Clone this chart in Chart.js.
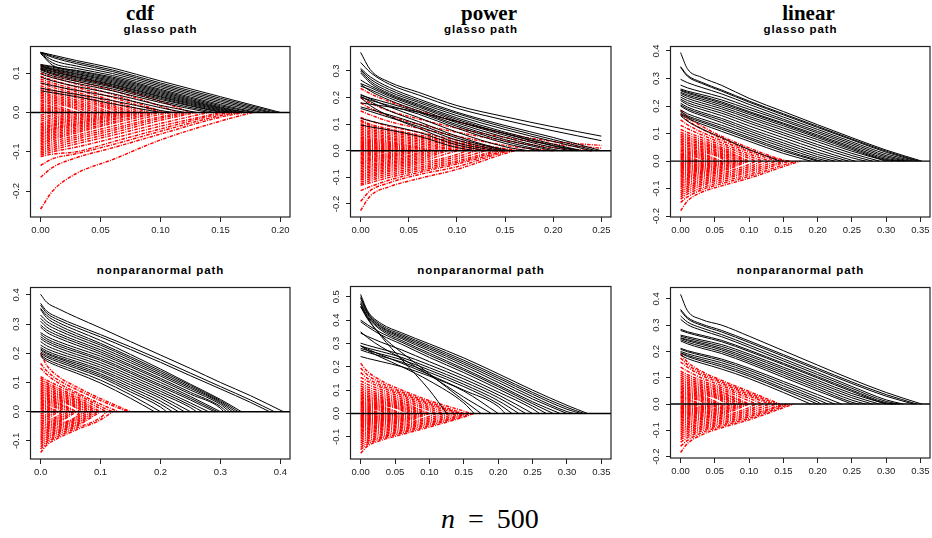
<!DOCTYPE html>
<html><head><meta charset="utf-8">
<script src="https://cdn.jsdelivr.net/npm/chart.js@4/dist/chart.umd.min.js"></script>
<style>
body{margin:0;background:#fff;width:932px;height:538px;position:relative;overflow:hidden}
canvas{position:absolute}
.tt{position:absolute;transform:translateX(-50%);white-space:nowrap;color:#000}
.big{font:bold 21px/21px "Liberation Serif",serif;top:3px}
.sub{font:bold 11.5px/11.5px "Liberation Sans",Arial,sans-serif;letter-spacing:0.9px}
.nlab{position:absolute;left:441px;top:505px;font:28px/28px "Liberation Serif",serif;white-space:nowrap}
</style>
</head><body>
<div class="tt big" style="left:140px">cdf</div>
<div class="tt big" style="left:489px">power</div>
<div class="tt big" style="left:808.5px">linear</div>
<div class="tt sub" style="left:160.5px;top:23.6px">glasso path</div>
<div class="tt sub" style="left:481px;top:23.6px">glasso path</div>
<div class="tt sub" style="left:800.5px;top:23.6px">glasso path</div>
<div class="tt sub" style="left:160.5px;top:265.3px">nonparanormal path</div>
<div class="tt sub" style="left:481px;top:265.3px">nonparanormal path</div>
<div class="tt sub" style="left:800.5px;top:265.3px">nonparanormal path</div>
<div class="nlab"><i>n</i><span style="margin-left:13px">=</span><span style="margin-left:13px">500</span></div>
<canvas id="c1"></canvas><canvas id="c2"></canvas><canvas id="c3"></canvas>
<canvas id="c4"></canvas><canvas id="c5"></canvas><canvas id="c6"></canvas>
<script>
// ---------- DATA ----------
// path format: [lambda where path reaches 0 (9 = beyond axis), value at grid[0], value at grid[1], ...]
const cdfGlassoGrid = [0, 0.01, 0.03, 0.06, 0.1, 0.15];
const cdfGlassoXTicks = [0, 0.05, 0.10, 0.15, 0.20];
const cdfGlassoYTicks = [-0.2, -0.1, 0.0, 0.1];
const cdfGlassoXRange = [-0.008, 0.208];
const cdfGlassoYRange = [-0.266, 0.169];
const cdfGlassoBlack = [
 [0.200,0.153,0.146,0.132,0.113,0.080,0.040],[0.197,0.153,0.143,0.128,0.108,0.075,0.036],
 [0.193,0.152,0.140,0.124,0.104,0.071,0.032],[0.190,0.152,0.133,0.118,0.099,0.067,0.028],
 [0.185,0.151,0.126,0.112,0.094,0.063,0.024],[0.180,0.150,0.120,0.107,0.090,0.059,0.020],
 [0.177,0.122,0.117,0.105,0.087,0.056,0.017],[0.172,0.120,0.115,0.102,0.084,0.053,0.014],
 [0.170,0.118,0.112,0.099,0.081,0.050,0.012],[0.166,0.117,0.110,0.097,0.078,0.047,0.010],
 [0.163,0.115,0.108,0.094,0.075,0.044,0.008],[0.160,0.113,0.105,0.091,0.072,0.041,0.006],
 [0.158,0.112,0.103,0.089,0.070,0.039,0.004],[0.155,0.110,0.100,0.086,0.067,0.036,0.002],
 [0.150,0.108,0.097,0.083,0.064,0.033],[0.145,0.104,0.093,0.079,0.060,0.029],
 [0.140,0.098,0.088,0.074,0.055,0.025],[0.130,0.090,0.080,0.066,0.048,0.018],
 [0.120,0.075,0.068,0.056,0.040,0.012],[0.110,0.062,0.056,0.046,0.030,0.005],
 [0.100,0.055,0.050,0.040,0.022]
];
const cdfGlassoRed = [
 [0.125,0.122,0.108,0.090,0.066,0.028],[0.115,0.110,0.098,0.080,0.056,0.016],[0.105,0.100,0.090,0.072,0.046,0.004],
 [0.10,0.092,0.082,0.064,0.038],[0.09,0.085,0.075,0.058,0.030],[0.085,0.080,0.070,0.052,0.024],
 [0.08,0.074,0.064,0.047,0.018],[0.075,0.068,0.058,0.042,0.014],[0.07,0.062,0.053,0.037,0.010],
 [0.065,0.058,0.049,0.032,0.006],[0.06,0.052,0.044,0.028],[0.055,0.048,0.040,0.024],
 [0.05,0.044,0.036,0.020],[0.045,0.040,0.032,0.016],[0.04,0.036,0.028,0.012],[0.035,0.031,0.024,0.008],
 [0.03,0.027,0.020],[0.027,0.022,0.015],[0.024,0.018,0.012],[0.02,0.014,0.008],[0.016,0.010,0.005],
 [0.012,0.007,0.002],[0.008,0.004],
 [0.177,-0.246,-0.200,-0.155,-0.120,-0.070,-0.022],[0.17,-0.165,-0.140,-0.115,-0.090,-0.055,-0.012],
 [0.165,-0.135,-0.118,-0.105,-0.082,-0.048,-0.008],[0.16,-0.112,-0.106,-0.100,-0.075,-0.042,-0.004],
 [0.15,-0.108,-0.100,-0.088,-0.066,-0.035],[0.14,-0.104,-0.095,-0.080,-0.058,-0.028],
 [0.13,-0.100,-0.090,-0.074,-0.052,-0.020],[0.125,-0.096,-0.085,-0.068,-0.046,-0.015],
 [0.12,-0.092,-0.080,-0.063,-0.041,-0.011],[0.11,-0.088,-0.075,-0.058,-0.035,-0.005],
 [0.10,-0.084,-0.070,-0.052,-0.028],[0.095,-0.080,-0.066,-0.048,-0.024],[0.09,-0.076,-0.062,-0.044,-0.019],
 [0.085,-0.072,-0.058,-0.040,-0.016],[0.08,-0.068,-0.054,-0.036,-0.012],[0.075,-0.064,-0.050,-0.032,-0.009],
 [0.07,-0.060,-0.046,-0.029,-0.006],[0.065,-0.056,-0.043,-0.026,-0.003],[0.06,-0.052,-0.040,-0.022],
 [0.055,-0.048,-0.036,-0.018],[0.05,-0.044,-0.033,-0.015],[0.045,-0.040,-0.030,-0.011],
 [0.04,-0.036,-0.026,-0.008],[0.035,-0.032,-0.022,-0.004],[0.03,-0.028,-0.018],[0.025,-0.022,-0.014],
 [0.02,-0.017,-0.009],[0.015,-0.012,-0.005],[0.01,-0.007]
];

const powerGlassoGrid = [0, 0.01, 0.03, 0.06, 0.1, 0.15, 0.2, 0.25];
const powerGlassoXTicks = [0, 0.05, 0.10, 0.15, 0.20, 0.25];
const powerGlassoYTicks = [-0.2, -0.1, 0.0, 0.1, 0.2, 0.3];
const powerGlassoXRange = [-0.01, 0.26];
const powerGlassoYRange = [-0.249, 0.394];
const powerGlassoBlack = [
 [9,0.370,0.305,0.258,0.220,0.170,0.128,0.090,0.055],[9,0.332,0.295,0.250,0.210,0.160,0.115,0.075,0.038],
 [0.25,0.310,0.278,0.238,0.195,0.145,0.095,0.050],[0.245,0.305,0.270,0.230,0.188,0.140,0.088,0.042],
 [0.24,0.300,0.262,0.222,0.182,0.132,0.080,0.035],[0.23,0.293,0.255,0.215,0.175,0.124,0.070,0.025],
 [0.225,0.266,0.245,0.210,0.170,0.118,0.064,0.018],[0.22,0.253,0.238,0.205,0.165,0.112,0.058,0.012],
 [0.21,0.243,0.230,0.198,0.158,0.105,0.050,0.005],[0.20,0.250,0.225,0.190,0.150,0.098,0.042],
 [0.19,0.209,0.198,0.178,0.145,0.092,0.035],[0.185,0.203,0.190,0.170,0.138,0.085,0.028],
 [0.175,0.212,0.195,0.165,0.125,0.070,0.015],[0.16,0.205,0.185,0.150,0.110,0.055,0.004],
 [0.15,0.165,0.155,0.135,0.100,0.048],[0.145,0.159,0.148,0.125,0.092,0.040],
 [0.14,0.200,0.170,0.130,0.085,0.030],[0.13,0.122,0.112,0.095,0.070,0.022],
 [0.12,0.097,0.090,0.078,0.055,0.012],[0.23,0.180,0.175,0.165,0.145,0.110,0.065,0.020]
];
const powerGlassoRed = [
 [9,0.235,0.215,0.185,0.150,0.110,0.065,0.035,0.020],[9,0.200,0.180,0.150,0.120,0.085,0.050,0.025,0.010],
 [0.24,0.180,0.160,0.130,0.100,0.070,0.038,0.012],[0.2,0.150,0.135,0.110,0.085,0.055,0.020],
 [0.17,0.125,0.112,0.092,0.070,0.040,0.008],[0.155,0.115,0.100,0.082,0.060,0.032,0.002],
 [0.15,0.110,0.095,0.076,0.055,0.028],[0.14,0.102,0.088,0.070,0.050,0.022],[0.13,0.095,0.082,0.064,0.044,0.016],
 [0.12,0.088,0.076,0.058,0.038,0.010],[0.11,0.082,0.070,0.052,0.032,0.004],[0.10,0.076,0.064,0.047,0.026],
 [0.09,0.070,0.058,0.042,0.020],[0.08,0.064,0.052,0.036,0.014],[0.075,0.058,0.047,0.032,0.010],
 [0.07,0.052,0.042,0.028,0.006],[0.06,0.047,0.038,0.024],[0.055,0.042,0.034,0.020],[0.05,0.038,0.030,0.016],
 [0.045,0.034,0.026,0.012],[0.04,0.030,0.022,0.008],[0.035,0.026,0.018,0.004],[0.03,0.022,0.015],
 [0.025,0.018,0.011],[0.02,0.014,0.007],[0.015,0.010,0.004],[0.01,0.006],
 [0.16,-0.225,-0.170,-0.135,-0.105,-0.070,-0.010],[0.155,-0.190,-0.150,-0.120,-0.090,-0.060,-0.004],
 [0.15,-0.150,-0.135,-0.110,-0.082,-0.050],[0.145,-0.130,-0.120,-0.100,-0.075,-0.044],
 [0.14,-0.125,-0.112,-0.092,-0.068,-0.038],[0.13,-0.118,-0.105,-0.085,-0.062,-0.030],
 [0.12,-0.110,-0.098,-0.078,-0.055,-0.022],[0.11,-0.104,-0.092,-0.072,-0.048,-0.014],
 [0.10,-0.098,-0.086,-0.066,-0.042],[0.09,-0.092,-0.080,-0.060,-0.036],[0.085,-0.086,-0.074,-0.055,-0.030],
 [0.08,-0.080,-0.068,-0.050,-0.024],[0.075,-0.074,-0.062,-0.045,-0.018],[0.07,-0.068,-0.057,-0.040,-0.012],
 [0.065,-0.062,-0.052,-0.035,-0.007],[0.06,-0.056,-0.046,-0.030],[0.055,-0.050,-0.041,-0.025],
 [0.05,-0.045,-0.036,-0.021],[0.045,-0.040,-0.032,-0.017],[0.04,-0.035,-0.027,-0.012],
 [0.035,-0.030,-0.023,-0.007],[0.03,-0.025,-0.018],[0.025,-0.020,-0.014],[0.02,-0.015,-0.009],
 [0.015,-0.010,-0.005],[0.01,-0.006]
];

const linearGlassoGrid = [0, 0.01, 0.03, 0.06, 0.1, 0.15, 0.2, 0.25, 0.3];
const linearGlassoXTicks = [0, 0.05, 0.10, 0.15, 0.20, 0.25, 0.30, 0.35];
const linearGlassoYTicks = [-0.2, -0.1, 0.0, 0.1, 0.2, 0.3, 0.4];
const linearGlassoXRange = [-0.014, 0.364];
const linearGlassoYRange = [-0.203, 0.418];
const linearGlassoBlack = [
 [0.352,0.394,0.335,0.305,0.275,0.228,0.180,0.132,0.085,0.040],[0.348,0.343,0.312,0.287,0.258,0.218,0.172,0.126,0.080,0.036],
 [0.345,0.340,0.308,0.283,0.254,0.214,0.168,0.122,0.077,0.032],[0.34,0.297,0.285,0.268,0.244,0.206,0.160,0.115,0.070,0.026],
 [0.335,0.276,0.266,0.252,0.232,0.196,0.152,0.108,0.064,0.020],[0.33,0.262,0.254,0.242,0.222,0.188,0.146,0.102,0.058,0.015],
 [0.325,0.258,0.250,0.236,0.215,0.180,0.138,0.095,0.052,0.010],[0.32,0.256,0.246,0.232,0.210,0.176,0.134,0.090,0.047,0.006],
 [0.31,0.250,0.240,0.226,0.204,0.170,0.128,0.085,0.042,0.003],[0.30,0.246,0.235,0.220,0.197,0.162,0.120,0.078,0.036],
 [0.29,0.240,0.228,0.212,0.190,0.155,0.112,0.070,0.028],[0.28,0.232,0.220,0.204,0.182,0.146,0.103,0.060,0.020],
 [0.27,0.225,0.212,0.196,0.174,0.138,0.095,0.052,0.012],[0.255,0.220,0.205,0.188,0.165,0.128,0.085,0.042,0.003],
 [0.245,0.210,0.196,0.178,0.155,0.118,0.075,0.032],[0.235,0.204,0.190,0.172,0.148,0.110,0.066,0.024],
 [0.225,0.200,0.185,0.166,0.140,0.102,0.058,0.016],[0.215,0.186,0.172,0.154,0.130,0.094,0.050,0.009],
 [0.205,0.180,0.165,0.147,0.122,0.086,0.042,0.003],[0.2,0.174,0.160,0.142,0.116,0.080,0.036],
 [0.19,0.170,0.155,0.135,0.108,0.072,0.028],[0.145,0.165,0.145,0.118,0.085,0.042]
];
const linearGlassoRed = [
 [0.16,0.185,0.160,0.128,0.090,0.048,0.004],[0.15,0.170,0.148,0.118,0.082,0.040],[0.14,0.150,0.132,0.106,0.074,0.034],
 [0.13,0.130,0.118,0.096,0.066,0.026],[0.12,0.115,0.104,0.086,0.058,0.018],[0.11,0.105,0.095,0.078,0.050,0.010],
 [0.10,0.098,0.088,0.071,0.044],[0.095,0.092,0.082,0.065,0.040],[0.09,0.086,0.076,0.060,0.034],
 [0.085,0.080,0.070,0.054,0.029],[0.08,0.074,0.065,0.049,0.024],[0.075,0.068,0.059,0.044,0.019],
 [0.07,0.062,0.054,0.039,0.014],[0.065,0.056,0.048,0.034,0.010],[0.06,0.050,0.043,0.029],
 [0.055,0.045,0.038,0.025],[0.05,0.040,0.033,0.021],[0.045,0.035,0.029,0.017],[0.04,0.030,0.024,0.012],
 [0.035,0.026,0.020,0.008],[0.03,0.022,0.016],[0.025,0.018,0.012],[0.02,0.014,0.008],[0.015,0.010,0.004],[0.01,0.006],
 [0.175,-0.180,-0.145,-0.114,-0.090,-0.062,-0.020],[0.17,-0.150,-0.130,-0.105,-0.082,-0.055,-0.014],
 [0.16,-0.138,-0.120,-0.098,-0.075,-0.048,-0.006],[0.15,-0.130,-0.112,-0.090,-0.068,-0.040],
 [0.14,-0.122,-0.105,-0.084,-0.062,-0.034],[0.13,-0.115,-0.098,-0.078,-0.056,-0.027],
 [0.12,-0.108,-0.092,-0.072,-0.050,-0.020],[0.11,-0.100,-0.086,-0.066,-0.044,-0.012],
 [0.10,-0.094,-0.080,-0.060,-0.038],[0.095,-0.088,-0.074,-0.055,-0.033],[0.09,-0.082,-0.068,-0.050,-0.028],
 [0.085,-0.076,-0.063,-0.045,-0.023],[0.08,-0.070,-0.058,-0.041,-0.018],[0.075,-0.064,-0.053,-0.037,-0.013],
 [0.07,-0.058,-0.048,-0.033,-0.009],[0.065,-0.053,-0.044,-0.029,-0.005],[0.06,-0.048,-0.040,-0.025],
 [0.055,-0.043,-0.035,-0.021],[0.05,-0.038,-0.031,-0.017],[0.045,-0.034,-0.027,-0.013],
 [0.04,-0.030,-0.023,-0.009],[0.035,-0.026,-0.019,-0.005],[0.03,-0.022,-0.015],[0.025,-0.018,-0.011],
 [0.02,-0.014,-0.008],[0.015,-0.010,-0.004],[0.01,-0.006]
];

const cdfNpnGrid = [0, 0.01, 0.03, 0.06, 0.1, 0.15, 0.2, 0.25, 0.3, 0.35];
const cdfNpnXTicks = [0, 0.1, 0.2, 0.3, 0.4];
const cdfNpnYTicks = [-0.1, 0.0, 0.1, 0.2, 0.3, 0.4];
const cdfNpnXRange = [-0.016, 0.416];
const cdfNpnYRange = [-0.162, 0.427];
const cdfNpnBlack = [
 [0.405,0.402,0.375,0.352,0.323,0.287,0.240,0.194,0.148,0.100,0.055],[0.39,0.371,0.345,0.322,0.296,0.264,0.222,0.178,0.132,0.086,0.040],
 [0.382,0.365,0.338,0.314,0.288,0.256,0.213,0.169,0.123,0.078,0.032],[0.335,0.354,0.330,0.305,0.278,0.244,0.196,0.146,0.094,0.042],
 [0.33,0.350,0.322,0.296,0.268,0.234,0.188,0.140,0.090,0.038],[0.325,0.331,0.310,0.287,0.260,0.228,0.182,0.134,0.085,0.034],
 [0.32,0.320,0.300,0.278,0.252,0.220,0.175,0.128,0.080,0.030],[0.315,0.310,0.290,0.268,0.243,0.212,0.168,0.122,0.074,0.025],
 [0.31,0.297,0.280,0.260,0.236,0.205,0.160,0.114,0.066,0.018],[0.305,0.290,0.272,0.252,0.228,0.198,0.154,0.108,0.060,0.012],
 [0.30,0.271,0.258,0.240,0.218,0.190,0.146,0.100,0.052],[0.295,0.265,0.250,0.232,0.210,0.182,0.138,0.092,0.046],
 [0.29,0.257,0.243,0.225,0.204,0.176,0.132,0.086,0.040],[0.28,0.250,0.236,0.218,0.196,0.168,0.124,0.078,0.030],
 [0.27,0.240,0.226,0.209,0.188,0.160,0.116,0.070,0.022],[0.26,0.228,0.216,0.200,0.180,0.152,0.108,0.062,0.014],
 [0.25,0.220,0.208,0.192,0.172,0.144,0.100,0.054],[0.24,0.215,0.202,0.186,0.166,0.138,0.092,0.046],
 [0.23,0.211,0.198,0.182,0.160,0.130,0.084,0.036],[0.22,0.205,0.192,0.176,0.154,0.124,0.076,0.026],
 [0.21,0.200,0.187,0.170,0.148,0.118,0.068,0.016],[0.2,0.194,0.180,0.162,0.140,0.108,0.058],
 [0.19,0.190,0.174,0.155,0.132,0.098,0.046]
];
const cdfNpnRed = [
 [0.15,0.200,0.160,0.120,0.085,0.045],[0.145,0.165,0.140,0.108,0.076,0.038],[0.13,0.150,0.128,0.098,0.066,0.026],
 [0.12,0.120,0.108,0.088,0.060,0.018],[0.11,0.115,0.100,0.080,0.052,0.010],[0.10,0.108,0.094,0.074,0.046],
 [0.095,0.100,0.088,0.068,0.041],[0.09,0.094,0.082,0.062,0.036],[0.085,0.088,0.076,0.057,0.031],
 [0.08,0.082,0.070,0.052,0.026],[0.075,0.076,0.064,0.047,0.021],[0.07,0.070,0.059,0.042,0.016],
 [0.065,0.064,0.054,0.037,0.011],[0.06,0.058,0.048,0.032],[0.055,0.052,0.043,0.028],[0.05,0.047,0.038,0.024],
 [0.045,0.042,0.034,0.019],[0.04,0.037,0.029,0.014],[0.035,0.032,0.025,0.009],[0.03,0.027,0.020],
 [0.025,0.022,0.016],[0.02,0.017,0.011],[0.015,0.012,0.006],[0.01,0.007],
 [0.12,-0.140,-0.115,-0.090,-0.062,-0.028],[0.11,-0.128,-0.108,-0.084,-0.056,-0.020],[0.10,-0.120,-0.102,-0.078,-0.050],
 [0.095,-0.112,-0.096,-0.072,-0.045],[0.09,-0.105,-0.090,-0.067,-0.040],[0.085,-0.098,-0.084,-0.062,-0.035],
 [0.08,-0.092,-0.078,-0.057,-0.030],[0.075,-0.086,-0.072,-0.052,-0.025],[0.07,-0.080,-0.067,-0.047,-0.020],
 [0.065,-0.074,-0.062,-0.042,-0.015],[0.06,-0.068,-0.056,-0.037],[0.055,-0.062,-0.051,-0.033],
 [0.05,-0.056,-0.046,-0.028],[0.045,-0.050,-0.041,-0.023],[0.04,-0.044,-0.036,-0.018],[0.035,-0.038,-0.030,-0.012],
 [0.03,-0.032,-0.025],[0.025,-0.026,-0.019],[0.02,-0.020,-0.014],[0.015,-0.014,-0.008],[0.01,-0.008]
];

const powerNpnGrid = [0, 0.01, 0.03, 0.06, 0.1, 0.15, 0.2, 0.25, 0.3];
const powerNpnXTicks = [0, 0.05, 0.10, 0.15, 0.20, 0.25, 0.30, 0.35];
const powerNpnYTicks = [-0.1, 0.0, 0.1, 0.2, 0.3, 0.4, 0.5];
const powerNpnXRange = [-0.014, 0.364];
const powerNpnYRange = [-0.195, 0.546];
const powerNpnBlack = [
 [0.33,0.510,0.440,0.385,0.345,0.298,0.238,0.170,0.100,0.035],[0.325,0.500,0.435,0.378,0.338,0.290,0.228,0.160,0.090,0.026],
 [0.32,0.493,0.430,0.372,0.332,0.283,0.220,0.152,0.082,0.018],[0.31,0.480,0.425,0.368,0.326,0.276,0.212,0.143,0.072,0.008],
 [0.30,0.470,0.418,0.362,0.320,0.268,0.203,0.133,0.062],[0.29,0.460,0.412,0.356,0.312,0.258,0.192,0.122,0.050],
 [0.175,0.457,0.405,0.335,0.260,0.170,0.055],[0.125,0.470,0.410,0.330,0.230,0.100],
 [0.28,0.400,0.380,0.345,0.305,0.250,0.185,0.115,0.042],[0.27,0.393,0.372,0.336,0.296,0.240,0.175,0.105,0.032],
 [0.26,0.344,0.330,0.305,0.272,0.222,0.160,0.092,0.020],[0.25,0.301,0.292,0.276,0.252,0.208,0.148,0.080],
 [0.24,0.289,0.280,0.265,0.240,0.196,0.136,0.068],[0.23,0.279,0.270,0.254,0.230,0.186,0.125,0.055],
 [0.22,0.272,0.262,0.245,0.220,0.176,0.115,0.042],[0.21,0.290,0.276,0.250,0.215,0.166,0.100,0.030],
 [0.2,0.244,0.236,0.222,0.200,0.160,0.096],[0.165,0.290,0.270,0.240,0.200,0.140,0.045],
 [0.19,0.350,0.325,0.285,0.235,0.165,0.070]
];
const powerNpnRed = [
 [0.16,0.215,0.180,0.140,0.100,0.055,0.010],[0.15,0.195,0.165,0.130,0.092,0.048],[0.145,0.175,0.150,0.120,0.085,0.042],
 [0.14,0.155,0.138,0.112,0.078,0.036],[0.13,0.140,0.125,0.102,0.070,0.028],[0.12,0.128,0.114,0.093,0.062,0.020],
 [0.11,0.118,0.104,0.084,0.055,0.012],[0.10,0.108,0.096,0.076,0.048],[0.095,0.100,0.088,0.069,0.043],
 [0.09,0.092,0.081,0.063,0.037],[0.085,0.085,0.074,0.057,0.032],[0.08,0.078,0.068,0.052,0.027],
 [0.075,0.072,0.062,0.047,0.022],[0.07,0.066,0.057,0.042,0.017],[0.065,0.060,0.052,0.037,0.012],
 [0.06,0.054,0.046,0.032],[0.055,0.049,0.041,0.028],[0.05,0.044,0.037,0.024],[0.045,0.039,0.032,0.019],
 [0.04,0.034,0.028,0.014],[0.035,0.029,0.023,0.009],[0.03,0.025,0.019],[0.025,0.020,0.015],
 [0.02,0.016,0.010],[0.015,0.012,0.006],[0.01,0.007],
 [0.165,-0.170,-0.140,-0.115,-0.090,-0.058,-0.015],[0.16,-0.155,-0.132,-0.108,-0.084,-0.052,-0.010],
 [0.155,-0.145,-0.125,-0.102,-0.078,-0.046,-0.005],[0.15,-0.135,-0.118,-0.096,-0.072,-0.040],
 [0.14,-0.126,-0.110,-0.089,-0.066,-0.034],[0.13,-0.118,-0.103,-0.082,-0.060,-0.027],
 [0.12,-0.110,-0.096,-0.076,-0.054,-0.020],[0.11,-0.103,-0.089,-0.070,-0.048,-0.012],
 [0.10,-0.096,-0.083,-0.064,-0.042],[0.095,-0.089,-0.077,-0.058,-0.036],[0.09,-0.082,-0.071,-0.053,-0.031],
 [0.085,-0.076,-0.065,-0.048,-0.026],[0.08,-0.070,-0.060,-0.043,-0.021],[0.075,-0.064,-0.054,-0.038,-0.016],
 [0.07,-0.058,-0.049,-0.034,-0.011],[0.065,-0.053,-0.044,-0.030,-0.006],[0.06,-0.048,-0.040,-0.026],
 [0.055,-0.043,-0.036,-0.022],[0.05,-0.038,-0.032,-0.018],[0.045,-0.034,-0.028,-0.014],
 [0.04,-0.030,-0.024,-0.010],[0.035,-0.026,-0.020,-0.006],[0.03,-0.022,-0.016],[0.025,-0.018,-0.012],
 [0.02,-0.014,-0.008],[0.015,-0.010,-0.005],[0.01,-0.006]
];

const linearNpnGrid = [0, 0.01, 0.03, 0.06, 0.1, 0.15, 0.2, 0.25, 0.3];
const linearNpnXTicks = [0, 0.05, 0.10, 0.15, 0.20, 0.25, 0.30, 0.35];
const linearNpnYTicks = [-0.2, -0.1, 0.0, 0.1, 0.2, 0.3, 0.4];
const linearNpnXRange = [-0.014, 0.364];
const linearNpnYRange = [-0.205, 0.445];
const linearNpnBlack = [
 [0.352,0.417,0.355,0.322,0.300,0.258,0.203,0.148,0.094,0.044],[0.345,0.360,0.330,0.305,0.280,0.240,0.188,0.136,0.084,0.036],
 [0.34,0.355,0.325,0.300,0.274,0.234,0.182,0.130,0.078,0.030],[0.325,0.335,0.312,0.290,0.264,0.224,0.172,0.120,0.067,0.016],
 [0.32,0.322,0.302,0.281,0.256,0.216,0.164,0.112,0.060,0.010],[0.315,0.284,0.275,0.262,0.242,0.205,0.155,0.104,0.053,0.005],
 [0.31,0.280,0.271,0.257,0.237,0.200,0.150,0.099,0.048,0.002],[0.30,0.262,0.256,0.244,0.226,0.190,0.140,0.090,0.040],
 [0.29,0.258,0.251,0.238,0.219,0.183,0.133,0.082,0.032],[0.28,0.252,0.245,0.232,0.212,0.175,0.125,0.074,0.024],
 [0.27,0.250,0.241,0.227,0.206,0.168,0.118,0.066,0.015],[0.26,0.245,0.235,0.220,0.199,0.161,0.110,0.058,0.007],
 [0.25,0.240,0.229,0.213,0.192,0.154,0.102,0.050],[0.235,0.212,0.203,0.190,0.171,0.136,0.086,0.036],
 [0.225,0.208,0.199,0.185,0.165,0.129,0.078,0.026],[0.215,0.200,0.191,0.177,0.157,0.121,0.069,0.017],
 [0.205,0.195,0.185,0.170,0.149,0.113,0.060,0.008],[0.20,0.193,0.181,0.164,0.142,0.106,0.054],
 [0.19,0.186,0.173,0.156,0.133,0.097,0.044]
];
const linearNpnRed = [
 [0.145,0.190,0.160,0.125,0.090,0.048],[0.14,0.175,0.150,0.118,0.084,0.042],[0.135,0.160,0.140,0.110,0.078,0.036],
 [0.13,0.140,0.125,0.100,0.070,0.030],[0.12,0.125,0.112,0.090,0.062,0.022],[0.11,0.118,0.104,0.083,0.055,0.012],
 [0.10,0.110,0.097,0.076,0.048],[0.095,0.102,0.090,0.070,0.043],[0.09,0.095,0.083,0.064,0.037],
 [0.085,0.088,0.077,0.058,0.032],[0.08,0.081,0.071,0.053,0.027],[0.075,0.074,0.065,0.048,0.022],
 [0.07,0.068,0.059,0.043,0.017],[0.065,0.062,0.054,0.038,0.012],[0.06,0.056,0.048,0.033],
 [0.055,0.050,0.043,0.029],[0.05,0.045,0.038,0.025],[0.045,0.040,0.034,0.020],[0.04,0.035,0.029,0.015],
 [0.035,0.030,0.024,0.010],[0.03,0.026,0.020],[0.025,0.021,0.016],[0.02,0.016,0.011],[0.015,0.012,0.006],[0.01,0.007],
 [0.165,-0.184,-0.150,-0.118,-0.090,-0.060,-0.014],[0.16,-0.160,-0.138,-0.110,-0.084,-0.054,-0.009],
 [0.155,-0.145,-0.128,-0.103,-0.078,-0.048,-0.004],[0.15,-0.135,-0.120,-0.096,-0.072,-0.042],
 [0.14,-0.128,-0.112,-0.090,-0.066,-0.035],[0.13,-0.120,-0.105,-0.084,-0.060,-0.028],
 [0.12,-0.113,-0.098,-0.078,-0.054,-0.021],[0.11,-0.106,-0.092,-0.072,-0.048,-0.013],
 [0.10,-0.099,-0.086,-0.066,-0.042],[0.095,-0.092,-0.080,-0.060,-0.037],[0.09,-0.085,-0.074,-0.055,-0.032],
 [0.085,-0.078,-0.068,-0.050,-0.027],[0.08,-0.072,-0.062,-0.045,-0.022],[0.075,-0.066,-0.056,-0.040,-0.017],
 [0.07,-0.060,-0.051,-0.035,-0.012],[0.065,-0.054,-0.046,-0.031,-0.007],[0.06,-0.049,-0.041,-0.027],
 [0.055,-0.044,-0.037,-0.023],[0.05,-0.039,-0.033,-0.019],[0.045,-0.035,-0.029,-0.015],
 [0.04,-0.031,-0.025,-0.011],[0.035,-0.027,-0.021,-0.007],[0.03,-0.023,-0.017],[0.025,-0.019,-0.013],
 [0.02,-0.015,-0.009],[0.015,-0.011,-0.005],[0.01,-0.007]
];

// ---------- LAYOUT (chart-area boxes in page pixels) ----------
const panels = [
 {id:'c1', box:[31,46,259,171], grid:cdfGlassoGrid, black:cdfGlassoBlack, red:cdfGlassoRed, xt:cdfGlassoXTicks, yt:cdfGlassoYTicks, xr:cdfGlassoXRange, yr:cdfGlassoYRange, xd:2},
 {id:'c2', box:[351,46,260,171], grid:powerGlassoGrid, black:powerGlassoBlack, red:powerGlassoRed, xt:powerGlassoXTicks, yt:powerGlassoYTicks, xr:powerGlassoXRange, yr:powerGlassoYRange, xd:2},
 {id:'c3', box:[671,46,259,171], grid:linearGlassoGrid, black:linearGlassoBlack, red:linearGlassoRed, xt:linearGlassoXTicks, yt:linearGlassoYTicks, xr:linearGlassoXRange, yr:linearGlassoYRange, xd:2},
 {id:'c4', box:[31,287,259,172], grid:cdfNpnGrid, black:cdfNpnBlack, red:cdfNpnRed, xt:cdfNpnXTicks, yt:cdfNpnYTicks, xr:cdfNpnXRange, yr:cdfNpnYRange, xd:1},
 {id:'c5', box:[351,286,260,173], grid:powerNpnGrid, black:powerNpnBlack, red:powerNpnRed, xt:powerNpnXTicks, yt:powerNpnYTicks, xr:powerNpnXRange, yr:powerNpnYRange, xd:2},
 {id:'c6', box:[671,287,259,171], grid:linearNpnGrid, black:linearNpnBlack, red:linearNpnRed, xt:linearNpnXTicks, yt:linearNpnYTicks, xr:linearNpnXRange, yr:linearNpnYRange, xd:2}
];
const YAXW = 30, XAXH = 25, PADT = 2, PADR = 2;

function buildPath(a, grid) {
  const end = a[0], pts = [];
  for (let i = 1; i < a.length; i++) {
    const x = grid[i - 1];
    if (x === undefined || x >= end) break;
    pts.push({x: x, y: a[i]});
  }
  if (end < 1) pts.push({x: end, y: 0});
  return pts;
}

const framePlugin = {
  id: 'frame',
  afterDraw(chart) {
    const {ctx, chartArea: a} = chart;
    const ys = chart.scales.y;
    ctx.save();
    ctx.strokeStyle = '#222'; ctx.lineWidth = 1.2;
    ctx.strokeRect(a.left - 0.5, a.top + 0.5, a.right - a.left + 0.5, a.bottom - a.top - 0.5);
    ctx.fillStyle = '#222';
    ctx.font = '9.5px "Liberation Sans", Arial, sans-serif';
    ctx.textAlign = 'center'; ctx.textBaseline = 'alphabetic';
    ys.ticks.forEach(t => {
      const y = ys.getPixelForValue(t.value);
      ctx.save();
      ctx.translate(a.left - 12, y);
      ctx.rotate(-Math.PI / 2);
      ctx.fillText(t.value.toFixed(1), 0, 0);
      ctx.restore();
    });
    ctx.restore();
  }
};

panels.forEach(p => {
  const [L, T, W, H] = p.box;
  const cv = document.getElementById(p.id);
  const cw = W + YAXW + PADR, ch = H + PADT + XAXH;
  cv.width = cw; cv.height = ch;
  cv.style.left = (L - YAXW) + 'px'; cv.style.top = (T - PADT) + 'px';
  cv.style.width = cw + 'px'; cv.style.height = ch + 'px';

  const datasets = [];
  datasets.push({data: [{x: p.xr[0], y: 0}, {x: p.xr[1], y: 0}], borderColor: '#000', borderWidth: 1.4, pointRadius: 0, order: 0});
  p.black.forEach(a => datasets.push({data: buildPath(a, p.grid), borderColor: '#000', borderWidth: 1, pointRadius: 0, cubicInterpolationMode: 'monotone', order: 1}));
  p.red.forEach(a => datasets.push({data: buildPath(a, p.grid), borderColor: '#ff0000', borderWidth: 1.45, borderDash: [3.5, 1.2, 1, 1.2], pointRadius: 0, cubicInterpolationMode: 'monotone', order: 2}));

  new Chart(cv, {
    type: 'line',
    data: {datasets},
    options: {
      responsive: false, animation: false, events: [], parsing: false,
      layout: {padding: {left: 0, right: PADR, top: PADT, bottom: 0}},
      plugins: {legend: {display: false}, tooltip: {enabled: false}},
      scales: {
        x: {
          type: 'linear', min: p.xr[0], max: p.xr[1],
          afterBuildTicks: s => { s.ticks = p.xt.map(v => ({value: v})); },
          afterFit: s => { s.height = XAXH; s.paddingLeft = 0; s.paddingRight = 0; },
          ticks: {callback: v => Number(v).toFixed(p.xd), font: {family: 'Liberation Sans', size: 9.5}, color: '#222', padding: 3, maxRotation: 0, minRotation: 0, autoSkip: false},
          grid: {drawOnChartArea: false, drawTicks: true, tickLength: 5, color: '#222', lineWidth: 1},
          border: {display: false}
        },
        y: {
          type: 'linear', min: p.yr[0], max: p.yr[1],
          afterBuildTicks: s => { s.ticks = p.yt.map(v => ({value: v})); },
          afterFit: s => { s.width = YAXW; s.paddingTop = 0; s.paddingBottom = 0; },
          ticks: {display: false},
          grid: {drawOnChartArea: false, drawTicks: true, tickLength: 5, color: '#222', lineWidth: 1},
          border: {display: false}
        }
      }
    },
    plugins: [framePlugin]
  });
});
</script>
</body></html>
